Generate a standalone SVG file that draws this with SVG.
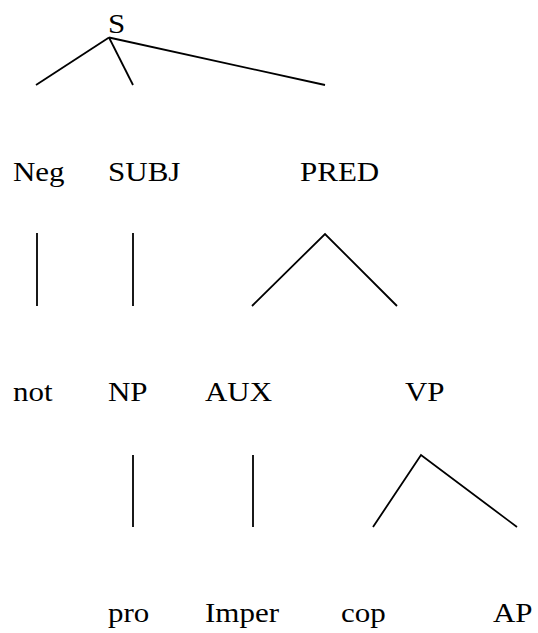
<svg xmlns="http://www.w3.org/2000/svg" width="538" height="633" viewBox="0 0 538 633">
  <style>
    text { font-family: "Liberation Serif", "Times New Roman", serif; font-size: 27.5px; fill: #000; }
    .edge { stroke: #000; stroke-width: 1.8; fill: none; stroke-linecap: butt; }
  </style>
  <rect width="538" height="633" fill="#fff"/>
  <g id="connectors">
    <line class="edge" x1="109" y1="37.5" x2="36" y2="85"/>
    <line class="edge" x1="109" y1="37.5" x2="133" y2="85"/>
    <line class="edge" x1="109" y1="37.5" x2="325" y2="85"/>
    <line class="edge" x1="37" y1="233" x2="37" y2="306"/>
    <line class="edge" x1="133" y1="233" x2="133" y2="306"/>
    <polyline class="edge" points="252,306 325,234 397,306"/>
    <line class="edge" x1="133" y1="455" x2="133" y2="527"/>
    <line class="edge" x1="253" y1="455" x2="253" y2="527"/>
    <polyline class="edge" points="373,527 421,455 517,527"/>
  </g>
  <!-- labels are slightly wide for their height, so each is stretched to its run length -->
  <g id="S"><text x="108" y="33" textLength="17.2" lengthAdjust="spacingAndGlyphs">S</text></g>
  <g id="Neg"><text x="13" y="181" textLength="51.6" lengthAdjust="spacingAndGlyphs">Neg</text></g>
  <g id="SUBJ"><text x="108" y="181" textLength="72.4" lengthAdjust="spacingAndGlyphs">SUBJ</text></g>
  <g id="PRED"><text x="300" y="181" textLength="79.2" lengthAdjust="spacingAndGlyphs">PRED</text></g>
  <g id="not"><text x="13" y="401" textLength="39.6" lengthAdjust="spacingAndGlyphs">not</text></g>
  <g id="NP"><text x="108" y="401" textLength="39.6" lengthAdjust="spacingAndGlyphs">NP</text></g>
  <g id="AUX"><text x="205" y="401" textLength="67.1" lengthAdjust="spacingAndGlyphs">AUX</text></g>
  <g id="VP"><text x="405" y="401" textLength="39.6" lengthAdjust="spacingAndGlyphs">VP</text></g>
  <g id="pro"><text x="108" y="622" textLength="41.3" lengthAdjust="spacingAndGlyphs">pro</text></g>
  <g id="Imper"><text x="205" y="622" textLength="74" lengthAdjust="spacingAndGlyphs">Imper</text></g>
  <g id="cop"><text x="341" y="622" textLength="44.8" lengthAdjust="spacingAndGlyphs">cop</text></g>
  <g id="AP"><text x="493" y="622" textLength="39.6" lengthAdjust="spacingAndGlyphs">AP</text></g>
</svg>
